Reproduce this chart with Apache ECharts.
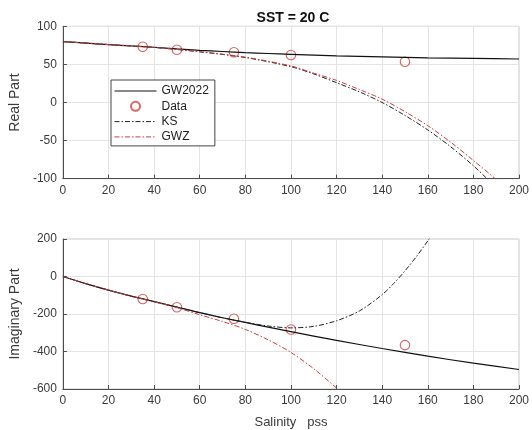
<!DOCTYPE html>
<html>
<head>
<meta charset="utf-8">
<script src="https://cdn.jsdelivr.net/npm/echarts@6/dist/echarts.min.js"></script>
<style>html,body{margin:0;padding:0;background:#fff;}#c{width:532px;height:430px;}</style>
</head>
<body>
<div id="c"></div>
<script>
// ---- data ----
const dataS    = [35, 50, 75, 100, 150];
const dataReal = [73.2, 69.3, 65.9, 62.3, 53.5];
const dataImag = [-120, -164, -225, -283, -366];

const gwS    = [0, 10, 20, 30, 40, 50, 60, 70, 80, 90, 100, 120, 140, 160, 180, 200];
const gwReal = [80, 78, 76, 74.2, 72.5, 70.4, 68.5, 66.9, 65.5, 64.3, 63.2, 61.2, 59.8, 58.6, 57.8, 57.1];
const gwImag = [0, -38, -73, -105, -134, -163, -193, -220, -245, -270, -294, -341, -384, -425, -462, -496];

const ksRealS = [0, 20, 40, 60, 80, 100, 110, 120, 130, 140, 150, 160, 170, 180, 186, 190];
const ksReal  = [80, 76, 72.3, 66.5, 59, 47, 37.5, 26, 14, 0, -17, -36, -58, -83, -100, -112];
const gwzRealS = [0, 20, 40, 60, 80, 100, 110, 120, 130, 140, 150, 160, 170, 180, 190, 194];
const gwzReal  = [80, 76, 72.3, 66.7, 59.5, 48, 38.5, 29, 17, 4.4, -12, -30.4, -52, -76, -101, -112];

const ksImagS = [0, 10, 20, 30, 40, 50, 60, 70, 80, 90, 100, 110, 120, 130, 140, 145, 150, 155, 160, 165];
const ksImag  = [0, -38, -73, -105, -134, -163, -193, -220, -244, -264, -274, -266, -236, -184, -97, -38, 30, 106, 190, 280];
const gwzImagS = [0, 10, 20, 30, 40, 50, 60, 70, 80, 90, 100, 110, 120, 122];
const gwzImag  = [0, -38, -73, -105, -135, -166, -204, -240, -282, -338, -405, -492, -595, -620];

const legendNames = ['GW2022', 'Data', 'KS', 'GWZ'];

const xTicks = {min: 0, max: 200, interval: 20};
const realTicks = {min: -100, max: 100, interval: 50};
const imagTicks = {min: -600, max: 200, interval: 200};

const zip = (xs, ys) => xs.map((x, i) => [x, ys[i]]);

const FONT = 'Liberation Sans, Arial, Helvetica, sans-serif';
const AX = '#4d4d4d';
const TXT = '#3a3a3a';
const GRIDC = '#e4e4e4';
const RED = '#d23c3c';

function xAxis(idx, withName) {
  return {
    type: 'value', gridIndex: idx, min: xTicks.min, max: xTicks.max, interval: xTicks.interval,
    axisLine: {show: true, onZero: false, lineStyle: {color: AX, width: 1}},
    axisTick: {show: true, inside: true, length: 4, lineStyle: {color: AX}},
    axisLabel: {color: TXT, fontSize: 12, fontFamily: FONT, margin: 6},
    splitLine: {show: true, lineStyle: {color: GRIDC, width: 1}},
    name: withName ? 'Salinity   pss' : '', nameLocation: 'middle', nameGap: 27,
    nameTextStyle: {color: TXT, fontSize: 13, fontFamily: FONT}
  };
}
function yAxis(idx, t, name) {
  return {
    type: 'value', gridIndex: idx, min: t.min, max: t.max, interval: t.interval,
    axisLine: {show: true, onZero: false, lineStyle: {color: AX, width: 1}},
    axisTick: {show: true, inside: true, length: 4, lineStyle: {color: AX}},
    axisLabel: {color: TXT, fontSize: 12, fontFamily: FONT, margin: 6},
    splitLine: {show: true, lineStyle: {color: GRIDC, width: 1}},
    name: name, nameLocation: 'middle', nameGap: 36,
    nameTextStyle: {color: TXT, fontSize: 14, fontFamily: FONT}
  };
}
function lineSeries(name, idx, pts, color, dash, width) {
  return {
    name: name, type: 'line', xAxisIndex: idx, yAxisIndex: idx, data: pts,
    symbol: 'none', smooth: 0.3, animation: false,
    lineStyle: {color: color, width: width, type: dash},
    itemStyle: {color: color}, z: 3
  };
}
function dataSeries(idx, pts) {
  return {
    name: 'Data', type: 'scatter', xAxisIndex: idx, yAxisIndex: idx, data: pts,
    symbol: 'circle', symbolSize: 9.5, animation: false,
    itemStyle: {color: 'rgba(255,255,255,0)', borderColor: RED, borderWidth: 1.1}, z: 2
  };
}

const chart = echarts.init(document.getElementById('c'), null, {renderer: 'canvas'});
chart.setOption({
  backgroundColor: '#fff',
  animation: false,
  title: {
    text: 'SST = 20 C', left: 288, top: 6, textAlign: 'center',
    textStyle: {fontSize: 14, fontWeight: 'bold', color: '#111', fontFamily: FONT}
  },
  grid: [
    {left: 57.3, width: 462, top: 26.3, height: 152.4, show: true, borderColor: '#c8c8c8', borderWidth: 1, backgroundColor: 'transparent'},
    {left: 57.3, width: 462, top: 239, height: 152.7, show: true, borderColor: '#c8c8c8', borderWidth: 1, backgroundColor: 'transparent'}
  ],
  xAxis: [xAxis(0, false), xAxis(1, true)],
  yAxis: [yAxis(0, realTicks, 'Real Part'), yAxis(1, imagTicks, 'Imaginary Part')],
  legend: {
    orient: 'vertical', left: 111, top: 80,
    data: legendNames.map(n => n === 'Data' ? {name: n} : {name: n, itemStyle: {opacity: 0}, lineStyle: {width: 1}}),
    itemWidth: 42, itemHeight: 9, itemGap: 3.3,
    padding: [5, 6, 3, 3],
    borderColor: '#444', borderWidth: 1, borderRadius: 0, backgroundColor: '#fff',
    textStyle: {fontSize: 12, color: '#222', fontFamily: FONT},
    selectedMode: false
  },
  series: [
    lineSeries('GW2022', 0, zip(gwS, gwReal), '#111', 'solid', 1.2),
    dataSeries(0, zip(dataS, dataReal)),
    lineSeries('KS', 0, zip(ksRealS, ksReal), '#222', [5, 2, 1.5, 2], 1),
    lineSeries('GWZ', 0, zip(gwzRealS, gwzReal), RED, [5, 2, 1.5, 2], 1),
    lineSeries('GW2022', 1, zip(gwS, gwImag), '#111', 'solid', 1.2),
    dataSeries(1, zip(dataS, dataImag)),
    lineSeries('KS', 1, zip(ksImagS, ksImag), '#222', [5, 2, 1.5, 2], 1),
    lineSeries('GWZ', 1, zip(gwzImagS, gwzImag), RED, [5, 2, 1.5, 2], 1)
  ]
});
</script>
</body>
</html>
